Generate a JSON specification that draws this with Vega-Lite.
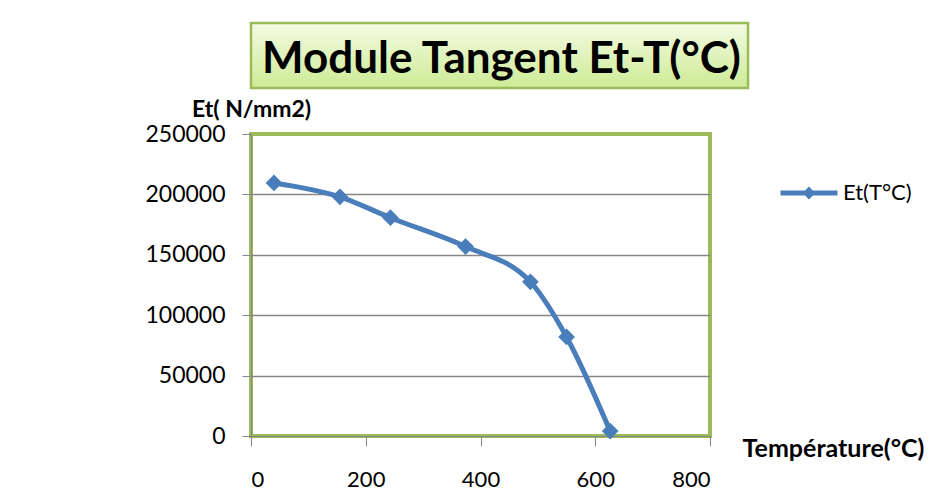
{
  "$schema": "https://vega.github.io/schema/vega-lite/v6.json",
  "autosize": {"type": "none"},
  "padding": {"left": 251, "top": 23, "right": 677, "bottom": 481},
  "background": "white",
  "config": {"font": "Lato"},
  "bounds": "flush",
  "spacing": 46,
  "vconcat": [
    {
      "width": 497,
      "height": 65,
      "view": {"stroke": null},
      "data": {"values": [{"t": "Module Tangent Et-T(°C)"}]},
      "layer": [
        {
          "mark": {
            "type": "rect",
            "stroke": "#9bbb59",
            "strokeWidth": 2.5,
            "fill": {
              "gradient": "linear",
              "x1": 0, "y1": 0, "x2": 0, "y2": 1,
              "stops": [
                {"offset": 0, "color": "#f4fbe4"},
                {"offset": 1, "color": "#cdeb95"}
              ]
            }
          }
        },
        {
          "mark": {"type": "text", "font": "Lato", "fontWeight": "bold", "fontSize": 44, "color": "#000000", "dy": 4, "dx": 2},
          "encoding": {"text": {"field": "t", "type": "nominal"}}
        }
      ]
    },
    {
      "width": 459,
      "height": 302,
      "view": {"stroke": "#9bbb59", "strokeWidth": 4},
      "data": {
        "values": [
          {"T": 40, "Et": 209500, "serie": "Et(T°C)"},
          {"T": 155, "Et": 198000, "serie": "Et(T°C)"},
          {"T": 243, "Et": 180700, "serie": "Et(T°C)"},
          {"T": 374, "Et": 156800, "serie": "Et(T°C)"},
          {"T": 487, "Et": 127600, "serie": "Et(T°C)"},
          {"T": 550, "Et": 82000, "serie": "Et(T°C)"},
          {"T": 626, "Et": 4100, "serie": "Et(T°C)"}
        ]
      },
      "encoding": {
        "x": {
          "field": "T",
          "type": "quantitative",
          "scale": {"domain": [0, 800], "nice": false},
          "axis": {
            "values": [0, 200, 400, 600, 800],
            "format": "d",
            "grid": false,
            "domainColor": "#868686",
            "domainWidth": 1,
            "tickColor": "#868686",
            "tickSize": 10,
            "labelFont": "Lato",
            "labelFontSize": 22,
            "labelColor": "#000000",
            "labelPadding": 23,
            "title": "Température(°C)",
            "titleFont": "Lato",
            "titleFontSize": 25,
            "titleFontWeight": "bold",
            "titleColor": "#000000",
            "titleAlign": "center",
            "titleBaseline": "alphabetic",
            "titleX": 582,
            "titleY": 20
          }
        },
        "y": {
          "field": "Et",
          "type": "quantitative",
          "scale": {"domain": [0, 250000], "nice": false},
          "axis": {
            "values": [0, 50000, 100000, 150000, 200000, 250000],
            "format": "d",
            "grid": true,
            "gridColor": "#868686",
            "gridWidth": 1.5,
            "gridOpacity": {"condition": {"test": "datum.value == 0 || datum.value == 250000", "value": 0}, "value": 1},
            "domainColor": "#868686",
            "domainWidth": 1,
            "tickColor": "#868686",
            "tickSize": 9,
            "labelFont": "Lato",
            "labelFontSize": 23,
            "labelColor": "#000000",
            "labelPadding": 17,
            "title": "Et( N/mm2)",
            "titleFont": "Lato",
            "titleFontSize": 23,
            "titleFontWeight": "bold",
            "titleColor": "#000000",
            "titleAngle": 0,
            "titleAlign": "center",
            "titleBaseline": "alphabetic",
            "titleX": 0,
            "titleY": -18
          }
        },
        "color": {
          "field": "serie",
          "type": "nominal",
          "scale": {"range": ["#4a7ebb"]},
          "legend": {
            "title": null,
            "orient": "none",
            "legendX": 527,
            "legendY": 139,
            "padding": 0,
            "symbolType": "M-1,0L1,0M0,-0.1L0.1,0L0,0.1L-0.1,0Z",
            "symbolSize": 3249,
            "symbolStrokeWidth": 5,
            "symbolStrokeColor": "#4a7ebb",
            "symbolFillColor": "#4a7ebb",
            "symbolOpacity": 1,
            "labelFont": "Lato",
            "labelFontSize": 22,
            "labelColor": "#000000",
            "labelOffset": 3
          }
        }
      },
      "layer": [
        {"mark": {"type": "line", "interpolate": "monotone", "strokeWidth": 5}},
        {"mark": {"type": "point", "shape": "diamond", "filled": true, "size": 280, "opacity": 1}}
      ]
    }
  ]
}
